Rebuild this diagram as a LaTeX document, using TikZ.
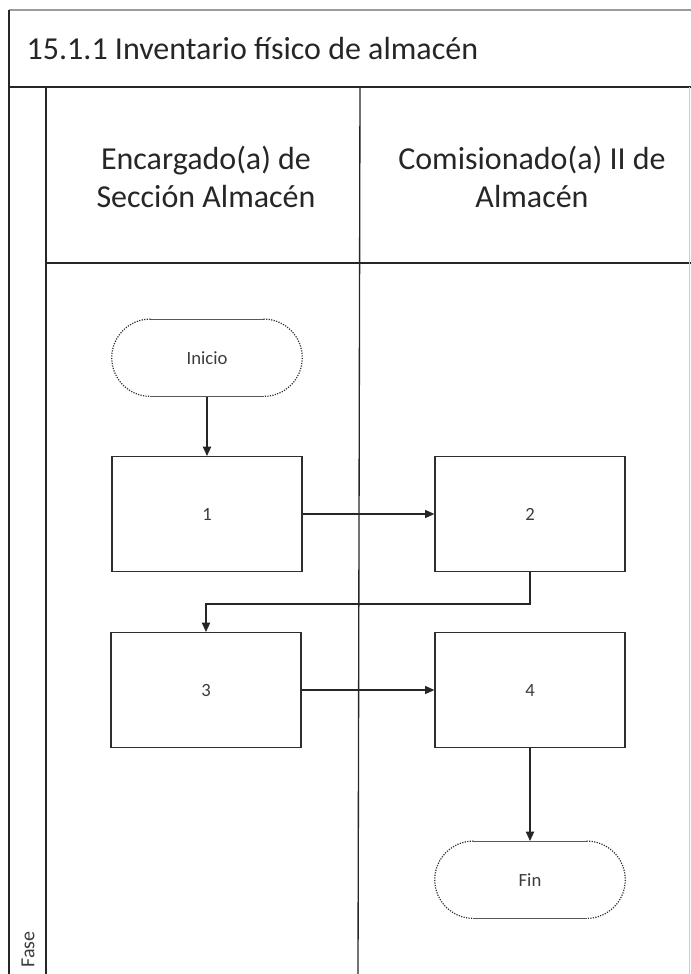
\documentclass[tikz,border=0pt]{standalone}
\usepackage{fontspec}
\setmainfont{Carlito}
\usetikzlibrary{arrows.meta,positioning}
\definecolor{lineGray}{HTML}{2E2E2E}
\definecolor{frameGray}{HTML}{9C9C9C}
\definecolor{textGray}{HTML}{3C3C3C}

\begin{document}
\begin{tikzpicture}[x=0.75pt, y=-0.75pt,
  every node/.style={font=\fontsize{14}{16}\selectfont, text=textGray},
  proc/.style={draw=lineGray, line width=0.9pt, minimum width=142.5pt,
               minimum height=86pt, inner sep=0pt},
  term/.style={minimum width=142.5pt, minimum height=58pt, inner sep=0pt},
  lane/.style={font=\fontsize{24}{29}\selectfont, align=center, text=black!85},
  flow/.style={-{Triangle[length=7pt,width=6pt]}, line width=1pt, draw=black!85},
  frame/.style={line width=1pt, draw=black!85},
]
\useasboundingbox (0,0) rectangle (691,974);

% Frame and lanes
\draw[frameGray, line width=1.2pt] (9,10) -- (691,10);
\draw[frame] (9,10) -- (9,974);
\draw[frame] (9,87) -- (691,87);
\draw[frame] (46,87) -- (46,974);
\draw[frame] (46,263) -- (691,263);
\draw[frame] (360,87) -- (358,974);
\draw[frameGray!50, line width=0.6pt] (689,87) -- (689,974);

\node[anchor=base west, font=\fontsize{24}{29}\selectfont, text=black!85]
  (title) at (22,60) {15.1.1 Inventario físico de almacén};
\node[lane] (encargado) at (206,177) {Encargado(a) de\\Sección Almacén};
\node[lane] (comisionado) at (532,177) {Comisionado(a) II de\\Almacén};
\node[rotate=90, anchor=west, font=\fontsize{15}{17}\selectfont] (fase) at (28,972) {Fase};

% Steps
\node[term] (inicio) at (207,358) {Inicio};
\node[proc] (paso1) at (207,514) {1};
\node[proc] (paso2) at (530,514) {2};
\node[proc] (paso3) at (206,690) {3};
\node[proc] (paso4) at (530,690) {4};
\node[term] (fin) at (530,880) {Fin};

% Terminal outlines (solid sides, dotted ends)
\foreach \t in {inicio,fin} {
  \draw[lineGray!80, line width=0.8pt] ([xshift=29pt]\t.north west) -- ([xshift=-29pt]\t.north east);
  \draw[lineGray!80, line width=0.8pt] ([xshift=29pt]\t.south west) -- ([xshift=-29pt]\t.south east);
  \draw[lineGray, line width=0.9pt, densely dotted] ([xshift=29pt]\t.north west)
    arc[start angle=90, end angle=270, radius=29pt];
  \draw[lineGray, line width=0.9pt, densely dotted] ([xshift=-29pt]\t.north east)
    arc[start angle=90, end angle=-90, radius=29pt];
}

% Flows
\draw[flow, line width=1.3pt] (inicio) -- (paso1);
\draw[flow] (paso1) -- (paso2);
\draw[flow, line width=1.3pt] (paso2.south) -- ++(0,32) -| (paso3.north);
\draw[flow] (paso3) -- (paso4);
\draw[flow, line width=1.3pt] (paso4) -- (fin);

\end{tikzpicture}
\end{document}
